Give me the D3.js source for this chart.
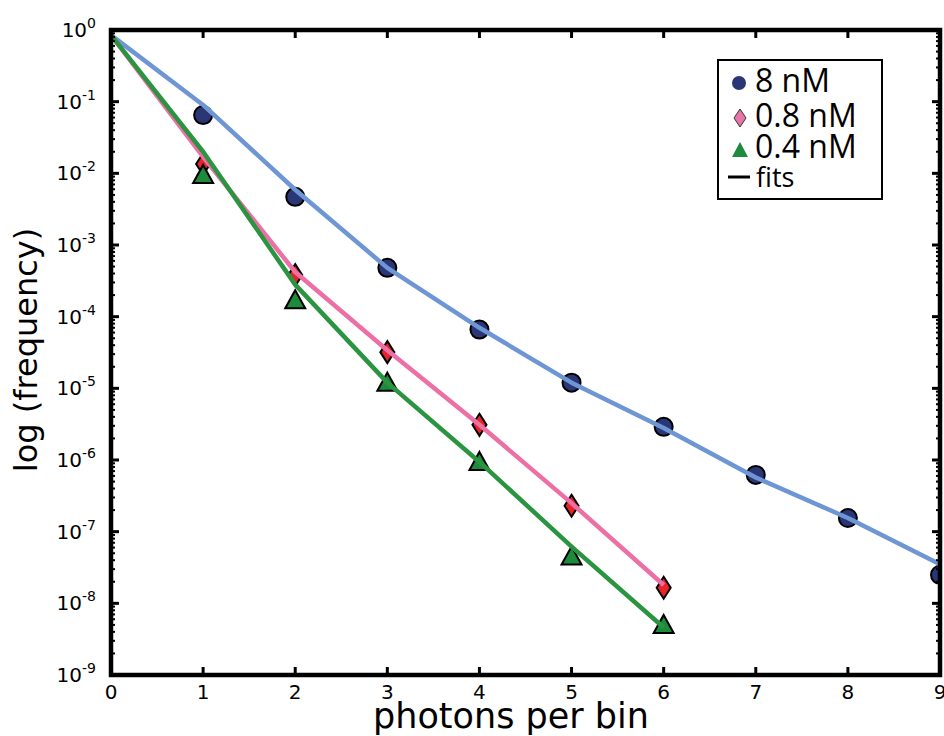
<!DOCTYPE html>
<html>
<head>
<meta charset="utf-8">
<script src="https://cdn.jsdelivr.net/npm/d3@7"></script>
<style>
  body { margin: 0; background: #fff; }
  svg { display: block; }
  .tick-lbl { font-family: "DejaVu Sans", sans-serif; fill: #000; }
  .lbl { font-family: "DejaVu Sans", sans-serif; fill: #000; }
  .leg { font-family: "Open Sans", "Noto Sans", sans-serif; fill: #000; }
</style>
</head>
<body>
<div id="chart"></div>
<script>
// photon counts per bin
var photons = [0, 1, 2, 3, 4, 5, 6, 7, 8, 9];
var xTicks = [0, 1, 2, 3, 4, 5, 6, 7, 8, 9];
var yTicks = [0, -1, -2, -3, -4, -5, -6, -7, -8, -9]; // exponents

// measured frequencies (x = 1..)
var data8nM  = [0.065, 4.7e-3, 4.8e-4, 6.6e-5, 1.2e-5, 2.9e-6, 6.2e-7, 1.55e-7, 2.5e-8];
var data08nM = [0.0135, 3.8e-4, 3.2e-5, 3.1e-6, 2.3e-7, 1.65e-8];
var data04nM = [9.5e-3, 1.7e-4, 1.2e-5, 9.4e-7, 4.5e-8, 5.0e-9];

// fit curves (x = 0..)
var fit8nM  = [0.85, 0.09, 5.9e-3, 4.8e-4, 7.0e-5, 1.2e-5, 2.8e-6, 5.7e-7, 1.55e-7, 3.5e-8];
var fit08nM = [0.85, 0.017, 4.2e-4, 3.4e-5, 3.1e-6, 2.5e-7, 1.8e-8];
var fit04nM = [0.85, 0.02, 2.8e-4, 1.2e-5, 9.4e-7, 6.2e-8, 4.6e-9];

var legendNames = ["8 nM", "0.8 nM", "0.4 nM", "fits"];

var width = 944, height = 736;
var margin = { top: 30, right: 4, bottom: 61, left: 111 };

var svg = d3.select("#chart").append("svg")
    .attr("width", width).attr("height", height);

var x = d3.scaleLinear().domain([0, 9]).range([margin.left, width - margin.right]);
var y = d3.scaleLog().domain([1e-9, 1]).range([height - margin.bottom, margin.top]);

var x0 = x.range()[0], x1 = x.range()[1], y0 = y.range()[0], y1 = y.range()[1];

svg.append("clipPath").attr("id", "plotclip")
  .append("rect").attr("x", x0).attr("y", y1).attr("width", x1 - x0).attr("height", y0 - y1);

var plot = svg.append("g").attr("clip-path", "url(#plotclip)");

var colors = {
    c8: "#2b3676", fit8: "#6e96d4",
    c08: "#e8242b", leg08: "#e874a8", fit08: "#ec6fa6",
    c04: "#1e8a3c", fit04: "#2a9440"
};

// markers
function pts(arr) {
    return arr.map(function (v, i) { return { x: photons[i + 1], v: v }; });
}

plot.selectAll(".c8").data(pts(data8nM)).enter().append("circle")
    .attr("cx", function (d) { return x(d.x); })
    .attr("cy", function (d) { return y(d.v); })
    .attr("r", 9)
    .attr("fill", colors.c8).attr("stroke", "#000").attr("stroke-width", 2);

var diamond = "M0,-11 L7,0 L0,11 L-7,0 Z";
var triangle = "M0,-10 L10,8 L-10,8 Z";

plot.selectAll(".c08").data(pts(data08nM)).enter().append("path")
    .attr("d", diamond)
    .attr("transform", function (d) { return "translate(" + x(d.x) + "," + y(d.v) + ")"; })
    .attr("fill", colors.c08).attr("stroke", "#000").attr("stroke-width", 2);

plot.selectAll(".c04").data(pts(data04nM)).enter().append("path")
    .attr("d", triangle)
    .attr("transform", function (d) { return "translate(" + x(d.x) + "," + y(d.v) + ")"; })
    .attr("fill", colors.c04).attr("stroke", "#000").attr("stroke-width", 2);

// fit lines
var line = d3.line()
    .x(function (d, i) { return x(photons[i]); })
    .y(function (d) { return y(d); });

[[fit8nM, colors.fit8], [fit08nM, colors.fit08], [fit04nM, colors.fit04]].forEach(function (f) {
    plot.append("path").datum(f[0])
        .attr("d", line)
        .attr("fill", "none")
        .attr("stroke", f[1])
        .attr("stroke-width", 4.5)
        .attr("stroke-linejoin", "round");
});

// frame + ticks
var axes = svg.append("g");
xTicks.slice(1, -1).forEach(function (t) {
    axes.append("line").attr("x1", x(t)).attr("x2", x(t)).attr("y1", y0).attr("y2", y0 - 8)
        .attr("stroke", "#000").attr("stroke-width", 3);
    axes.append("line").attr("x1", x(t)).attr("x2", x(t)).attr("y1", y1).attr("y2", y1 + 8)
        .attr("stroke", "#000").attr("stroke-width", 3);
});
yTicks.forEach(function (e) {
    var yy = y(Math.pow(10, e));
    axes.append("line").attr("x1", x0).attr("x2", x0 + 8).attr("y1", yy).attr("y2", yy)
        .attr("stroke", "#000").attr("stroke-width", 3);
    axes.append("line").attr("x1", x1).attr("x2", x1 - 8).attr("y1", yy).attr("y2", yy)
        .attr("stroke", "#000").attr("stroke-width", 3);
    if (e > -9) {
        for (var k = 2; k <= 9; k++) {
            var ym = y(k * Math.pow(10, e - 1));
            axes.append("line").attr("x1", x0).attr("x2", x0 + 4).attr("y1", ym).attr("y2", ym)
                .attr("stroke", "#000").attr("stroke-width", 2);
            axes.append("line").attr("x1", x1).attr("x2", x1 - 4).attr("y1", ym).attr("y2", ym)
                .attr("stroke", "#000").attr("stroke-width", 2);
        }
    }
});
axes.append("rect").attr("x", x0).attr("y", y1).attr("width", x1 - x0).attr("height", y0 - y1)
    .attr("fill", "none").attr("stroke", "#000").attr("stroke-width", 4.5);

// tick labels
svg.selectAll(".xt").data(xTicks).enter().append("text")
    .attr("class", "tick-lbl")
    .attr("x", function (d) { return x(d); })
    .attr("y", y0 + 24)
    .attr("text-anchor", "middle")
    .style("font-size", "20px")
    .text(function (d) { return d; });

var yl = svg.selectAll(".yt").data(yTicks).enter().append("text")
    .attr("class", "tick-lbl")
    .attr("x", x0 - 15)
    .attr("y", function (d) { return y(Math.pow(10, d)) + 7; })
    .attr("text-anchor", "end")
    .style("font-size", "20px");
yl.append("tspan").text("10");
yl.append("tspan").attr("dy", -9).style("font-size", "14px").text(function (d) { return d; });

// axis titles
svg.append("text").attr("class", "lbl")
    .attr("x", 511).attr("y", 728)
    .attr("text-anchor", "middle")
    .style("font-size", "35px")
    .text("photons per bin");

svg.append("text").attr("class", "lbl")
    .attr("transform", "translate(37,350) rotate(-90)")
    .attr("text-anchor", "middle")
    .style("font-size", "32px")
    .text("log (frequency)");

// legend
var lg = svg.append("g");
lg.append("rect").attr("x", 718).attr("y", 60).attr("width", 164).attr("height", 139)
    .attr("fill", "#fff").attr("stroke", "#000").attr("stroke-width", 2);
lg.append("circle").attr("cx", 739).attr("cy", 83).attr("r", 7).attr("fill", colors.c8);
lg.append("path").attr("d", "M0,-9 L6,0 L0,9 L-6,0 Z").attr("transform", "translate(740,118)")
    .attr("fill", colors.leg08).attr("stroke", "#333").attr("stroke-width", 1);
lg.append("path").attr("d", "M0,-8 L8,7 L-8,7 Z").attr("transform", "translate(740,150)")
    .attr("fill", colors.c04);
lg.append("line").attr("x1", 728).attr("x2", 750).attr("y1", 177).attr("y2", 177)
    .attr("stroke", "#000").attr("stroke-width", 3);

var legX = [755, 755, 755, 756];
var legY = [92, 127, 158, 187];
var legSize = ["32px", "32px", "32px", "27px"];
legendNames.forEach(function (n, i) {
    lg.append("text").attr("class", "leg")
        .attr("x", legX[i])
        .attr("y", legY[i])
        .style("font-size", legSize[i])
        .text(n);
});
</script>
</body>
</html>
